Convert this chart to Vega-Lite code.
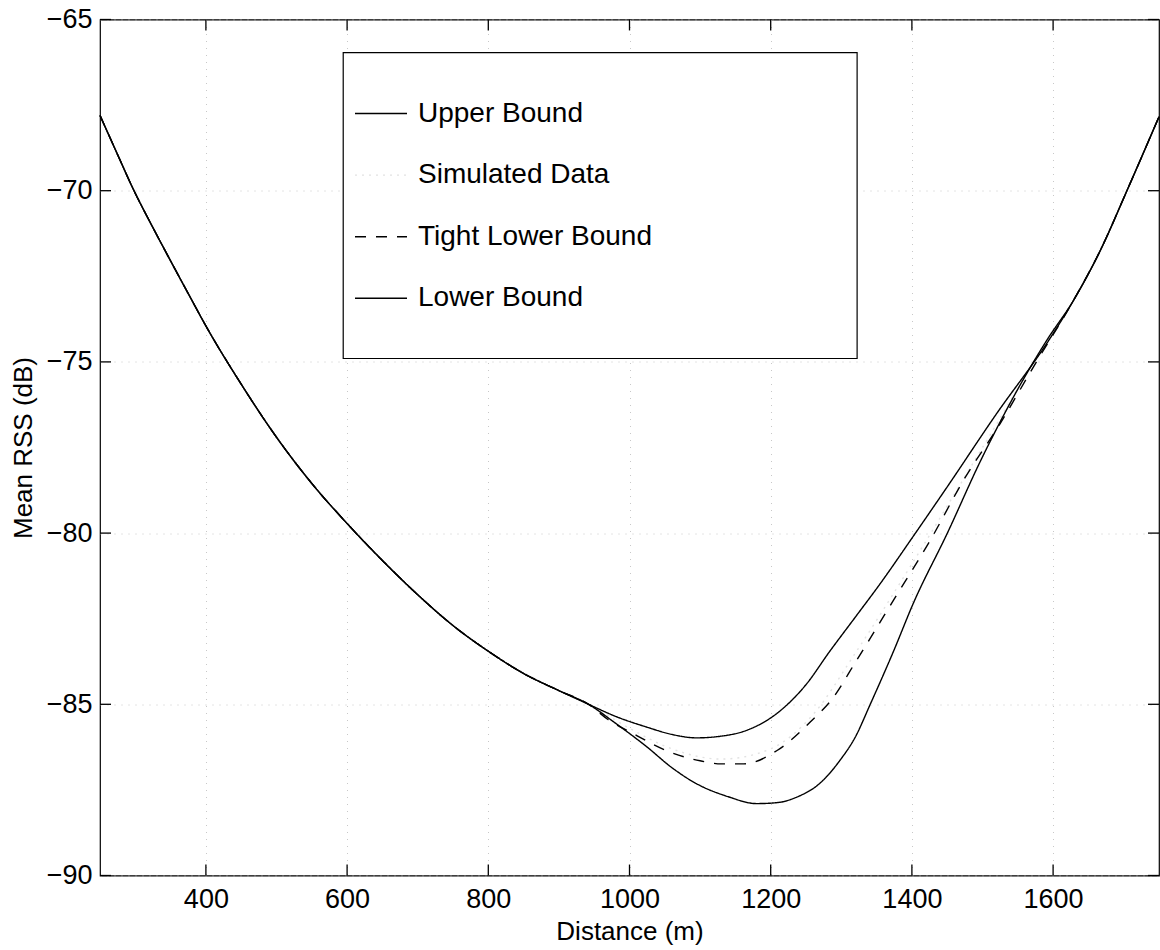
{
  "$schema": "https://vega.github.io/schema/vega-lite/v6.json",
  "width": 1059,
  "height": 856,
  "autosize": {"type": "none"},
  "padding": {"left": 100, "top": 19.5, "right": 1, "bottom": 74.5},
  "background": "white",
  "config": {
    "view": {"stroke": "black", "strokeWidth": 1.2},
    "font": "Liberation Sans"
  },
  "datasets": {
    "xticks": [{"v": 400}, {"v": 600}, {"v": 800}, {"v": 1000}, {"v": 1200}, {"v": 1400}, {"v": 1600}],
    "yticks": [{"v": -90}, {"v": -85}, {"v": -80}, {"v": -75}, {"v": -70}, {"v": -65}],
    "curves": [
      {"series": "Simulated Data", "x": 250, "y": -67.8},
      {"series": "Simulated Data", "x": 300, "y": -70.05},
      {"series": "Simulated Data", "x": 400, "y": -73.95},
      {"series": "Simulated Data", "x": 500, "y": -77.2},
      {"series": "Simulated Data", "x": 600, "y": -79.72},
      {"series": "Simulated Data", "x": 700, "y": -81.8},
      {"series": "Simulated Data", "x": 800, "y": -83.45},
      {"series": "Simulated Data", "x": 900, "y": -84.6},
      {"series": "Simulated Data", "x": 942, "y": -85.0},
      {"series": "Simulated Data", "x": 1000, "y": -85.7},
      {"series": "Simulated Data", "x": 1060, "y": -86.3},
      {"series": "Simulated Data", "x": 1130, "y": -86.6},
      {"series": "Simulated Data", "x": 1200, "y": -86.3},
      {"series": "Simulated Data", "x": 1260, "y": -85.3},
      {"series": "Simulated Data", "x": 1320, "y": -83.5},
      {"series": "Simulated Data", "x": 1400, "y": -80.9},
      {"series": "Simulated Data", "x": 1500, "y": -77.5},
      {"series": "Simulated Data", "x": 1591, "y": -74.4},
      {"series": "Simulated Data", "x": 1629, "y": -73.2},
      {"series": "Simulated Data", "x": 1705, "y": -69.98},
      {"series": "Simulated Data", "x": 1750, "y": -67.84},

      {"series": "Upper Bound", "x": 250, "y": -67.8},
      {"series": "Upper Bound", "x": 275, "y": -68.95},
      {"series": "Upper Bound", "x": 297, "y": -69.95},
      {"series": "Upper Bound", "x": 325, "y": -71.08},
      {"series": "Upper Bound", "x": 350, "y": -72.05},
      {"series": "Upper Bound", "x": 377, "y": -73.08},
      {"series": "Upper Bound", "x": 400, "y": -73.95},
      {"series": "Upper Bound", "x": 450, "y": -75.65},
      {"series": "Upper Bound", "x": 500, "y": -77.2},
      {"series": "Upper Bound", "x": 550, "y": -78.55},
      {"series": "Upper Bound", "x": 600, "y": -79.72},
      {"series": "Upper Bound", "x": 650, "y": -80.8},
      {"series": "Upper Bound", "x": 700, "y": -81.8},
      {"series": "Upper Bound", "x": 750, "y": -82.7},
      {"series": "Upper Bound", "x": 800, "y": -83.45},
      {"series": "Upper Bound", "x": 850, "y": -84.1},
      {"series": "Upper Bound", "x": 900, "y": -84.6},
      {"series": "Upper Bound", "x": 942, "y": -85.0},
      {"series": "Upper Bound", "x": 980, "y": -85.35},
      {"series": "Upper Bound", "x": 1025, "y": -85.67},
      {"series": "Upper Bound", "x": 1060, "y": -85.88},
      {"series": "Upper Bound", "x": 1095, "y": -85.98},
      {"series": "Upper Bound", "x": 1130, "y": -85.93},
      {"series": "Upper Bound", "x": 1166, "y": -85.76},
      {"series": "Upper Bound", "x": 1214, "y": -85.18},
      {"series": "Upper Bound", "x": 1251, "y": -84.4},
      {"series": "Upper Bound", "x": 1282, "y": -83.5},
      {"series": "Upper Bound", "x": 1320, "y": -82.45},
      {"series": "Upper Bound", "x": 1355, "y": -81.48},
      {"series": "Upper Bound", "x": 1400, "y": -80.15},
      {"series": "Upper Bound", "x": 1450, "y": -78.65},
      {"series": "Upper Bound", "x": 1520, "y": -76.51},
      {"series": "Upper Bound", "x": 1591, "y": -74.46},
      {"series": "Upper Bound", "x": 1629, "y": -73.2},
      {"series": "Upper Bound", "x": 1667, "y": -71.74},
      {"series": "Upper Bound", "x": 1705, "y": -69.98},
      {"series": "Upper Bound", "x": 1750, "y": -67.84},

      {"series": "Tight Lower Bound", "x": 250, "y": -67.8},
      {"series": "Tight Lower Bound", "x": 275, "y": -68.95},
      {"series": "Tight Lower Bound", "x": 297, "y": -69.95},
      {"series": "Tight Lower Bound", "x": 325, "y": -71.08},
      {"series": "Tight Lower Bound", "x": 350, "y": -72.05},
      {"series": "Tight Lower Bound", "x": 377, "y": -73.08},
      {"series": "Tight Lower Bound", "x": 400, "y": -73.95},
      {"series": "Tight Lower Bound", "x": 450, "y": -75.65},
      {"series": "Tight Lower Bound", "x": 500, "y": -77.2},
      {"series": "Tight Lower Bound", "x": 550, "y": -78.55},
      {"series": "Tight Lower Bound", "x": 600, "y": -79.72},
      {"series": "Tight Lower Bound", "x": 650, "y": -80.8},
      {"series": "Tight Lower Bound", "x": 700, "y": -81.8},
      {"series": "Tight Lower Bound", "x": 750, "y": -82.7},
      {"series": "Tight Lower Bound", "x": 800, "y": -83.45},
      {"series": "Tight Lower Bound", "x": 850, "y": -84.1},
      {"series": "Tight Lower Bound", "x": 900, "y": -84.6},
      {"series": "Tight Lower Bound", "x": 942, "y": -85.0},
      {"series": "Tight Lower Bound", "x": 970, "y": -85.45},
      {"series": "Tight Lower Bound", "x": 1001, "y": -85.81},
      {"series": "Tight Lower Bound", "x": 1058, "y": -86.4},
      {"series": "Tight Lower Bound", "x": 1100, "y": -86.65},
      {"series": "Tight Lower Bound", "x": 1130, "y": -86.74},
      {"series": "Tight Lower Bound", "x": 1162, "y": -86.74},
      {"series": "Tight Lower Bound", "x": 1209, "y": -86.35},
      {"series": "Tight Lower Bound", "x": 1256, "y": -85.52},
      {"series": "Tight Lower Bound", "x": 1289, "y": -84.79},
      {"series": "Tight Lower Bound", "x": 1320, "y": -83.77},
      {"series": "Tight Lower Bound", "x": 1374, "y": -81.96},
      {"series": "Tight Lower Bound", "x": 1426, "y": -80.21},
      {"series": "Tight Lower Bound", "x": 1473, "y": -78.46},
      {"series": "Tight Lower Bound", "x": 1525, "y": -76.8},
      {"series": "Tight Lower Bound", "x": 1572, "y": -75.15},
      {"series": "Tight Lower Bound", "x": 1629, "y": -73.2},
      {"series": "Tight Lower Bound", "x": 1667, "y": -71.74},
      {"series": "Tight Lower Bound", "x": 1705, "y": -69.98},
      {"series": "Tight Lower Bound", "x": 1750, "y": -67.84},

      {"series": "Lower Bound", "x": 250, "y": -67.8},
      {"series": "Lower Bound", "x": 275, "y": -68.95},
      {"series": "Lower Bound", "x": 297, "y": -69.95},
      {"series": "Lower Bound", "x": 325, "y": -71.08},
      {"series": "Lower Bound", "x": 350, "y": -72.05},
      {"series": "Lower Bound", "x": 377, "y": -73.08},
      {"series": "Lower Bound", "x": 400, "y": -73.95},
      {"series": "Lower Bound", "x": 450, "y": -75.65},
      {"series": "Lower Bound", "x": 500, "y": -77.2},
      {"series": "Lower Bound", "x": 550, "y": -78.55},
      {"series": "Lower Bound", "x": 600, "y": -79.72},
      {"series": "Lower Bound", "x": 650, "y": -80.8},
      {"series": "Lower Bound", "x": 700, "y": -81.8},
      {"series": "Lower Bound", "x": 750, "y": -82.7},
      {"series": "Lower Bound", "x": 800, "y": -83.45},
      {"series": "Lower Bound", "x": 850, "y": -84.1},
      {"series": "Lower Bound", "x": 900, "y": -84.6},
      {"series": "Lower Bound", "x": 942, "y": -85.0},
      {"series": "Lower Bound", "x": 980, "y": -85.55},
      {"series": "Lower Bound", "x": 1025, "y": -86.25},
      {"series": "Lower Bound", "x": 1060, "y": -86.85},
      {"series": "Lower Bound", "x": 1095, "y": -87.32},
      {"series": "Lower Bound", "x": 1140, "y": -87.7},
      {"series": "Lower Bound", "x": 1180, "y": -87.9},
      {"series": "Lower Bound", "x": 1210, "y": -87.87},
      {"series": "Lower Bound", "x": 1237, "y": -87.71},
      {"series": "Lower Bound", "x": 1270, "y": -87.3},
      {"series": "Lower Bound", "x": 1298, "y": -86.64},
      {"series": "Lower Bound", "x": 1320, "y": -85.95},
      {"series": "Lower Bound", "x": 1341, "y": -85.0},
      {"series": "Lower Bound", "x": 1374, "y": -83.45},
      {"series": "Lower Bound", "x": 1402, "y": -82.05},
      {"series": "Lower Bound", "x": 1450, "y": -80.01},
      {"series": "Lower Bound", "x": 1497, "y": -77.9},
      {"series": "Lower Bound", "x": 1544, "y": -76.02},
      {"series": "Lower Bound", "x": 1591, "y": -74.37},
      {"series": "Lower Bound", "x": 1629, "y": -73.2},
      {"series": "Lower Bound", "x": 1667, "y": -71.74},
      {"series": "Lower Bound", "x": 1705, "y": -69.98},
      {"series": "Lower Bound", "x": 1750, "y": -67.84}
    ]
  },
  "layer": [
    {
      "data": {"name": "curves"},
      "mark": {"type": "line", "strokeWidth": 1.4, "interpolate": "monotone"},
      "encoding": {
        "x": {
          "field": "x", "type": "quantitative",
          "scale": {"domain": [250, 1750], "nice": false, "zero": false},
          "axis": {
            "orient": "bottom", "values": [400, 600, 800, 1000, 1200, 1400, 1600], "format": "d",
            "title": "Distance (m)", "titleFontSize": 26, "titleFontWeight": "normal", "titleColor": "black", "titlePadding": 6,
            "labelFontSize": 27, "labelColor": "black", "labelPadding": 11,
            "ticks": false, "domain": false,
            "grid": true, "gridColor": "#c8c8c8", "gridDash": [1, 6], "gridWidth": 1
          }
        },
        "y": {
          "field": "y", "type": "quantitative",
          "scale": {"domain": [-90, -65], "nice": false, "zero": false},
          "axis": {
            "orient": "left", "values": [-90, -85, -80, -75, -70, -65],
            "title": "Mean RSS (dB)", "titleFontSize": 26, "titleFontWeight": "normal", "titleColor": "black", "titlePadding": 10,
            "labelFontSize": 27, "labelColor": "black", "labelPadding": 8,
            "ticks": false, "domain": false,
            "grid": true, "gridColor": "#c8c8c8", "gridDash": [1, 6], "gridWidth": 1
          }
        },
        "color": {
          "field": "series", "type": "nominal",
          "scale": {"domain": ["Upper Bound", "Simulated Data", "Tight Lower Bound", "Lower Bound"], "range": ["black", "#e2e2e2", "black", "black"]},
          "legend": {
            "orient": "none", "legendX": 254, "legendY": 67, "title": null, "padding": 0,
            "symbolType": "stroke", "symbolSize": 2704, "symbolStrokeWidth": 1.4,
            "labelFontSize": 28, "labelColor": "black", "labelOffset": 10, "rowPadding": 20.6,
            "labelLimit": 500, "labelFont": "Liberation Sans"
          }
        },
        "strokeDash": {
          "field": "series", "type": "nominal",
          "scale": {"domain": ["Upper Bound", "Simulated Data", "Tight Lower Bound", "Lower Bound"], "range": [[1, 0], [2, 5], [11, 10], [1, 0]]},
          "legend": {
            "orient": "none", "legendX": 254, "legendY": 67, "title": null, "padding": 0,
            "symbolType": "stroke", "symbolSize": 2704, "symbolStrokeWidth": 1.4,
            "labelFontSize": 28, "labelColor": "black", "labelOffset": 10, "rowPadding": 20.6,
            "labelLimit": 500, "labelFont": "Liberation Sans"
          }
        }
      }
    },
    {
      "data": {"values": [{}]},
      "mark": {"type": "rect", "fill": "white", "stroke": "black", "strokeWidth": 1.2},
      "encoding": {
        "x": {"datum": 594.5, "type": "quantitative"},
        "x2": {"datum": 1322.4},
        "y": {"datum": -65.97, "type": "quantitative"},
        "y2": {"datum": -74.9}
      }
    },
    {
      "data": {"name": "xticks"},
      "mark": {"type": "rule", "color": "black", "strokeWidth": 1.3},
      "encoding": {
        "x": {"field": "v", "type": "quantitative"},
        "y": {"datum": -90, "type": "quantitative"},
        "y2": {"datum": -89.68}
      }
    },
    {
      "data": {"name": "xticks"},
      "mark": {"type": "rule", "color": "black", "strokeWidth": 1.3},
      "encoding": {
        "x": {"field": "v", "type": "quantitative"},
        "y": {"datum": -65, "type": "quantitative"},
        "y2": {"datum": -65.32}
      }
    },
    {
      "data": {"name": "yticks"},
      "mark": {"type": "rule", "color": "black", "strokeWidth": 1.3},
      "encoding": {
        "y": {"field": "v", "type": "quantitative"},
        "x": {"datum": 250, "type": "quantitative"},
        "x2": {"datum": 265.6}
      }
    },
    {
      "data": {"name": "yticks"},
      "mark": {"type": "rule", "color": "black", "strokeWidth": 1.3},
      "encoding": {
        "y": {"field": "v", "type": "quantitative"},
        "x": {"datum": 1734.4, "type": "quantitative"},
        "x2": {"datum": 1750}
      }
    }
  ]
}
